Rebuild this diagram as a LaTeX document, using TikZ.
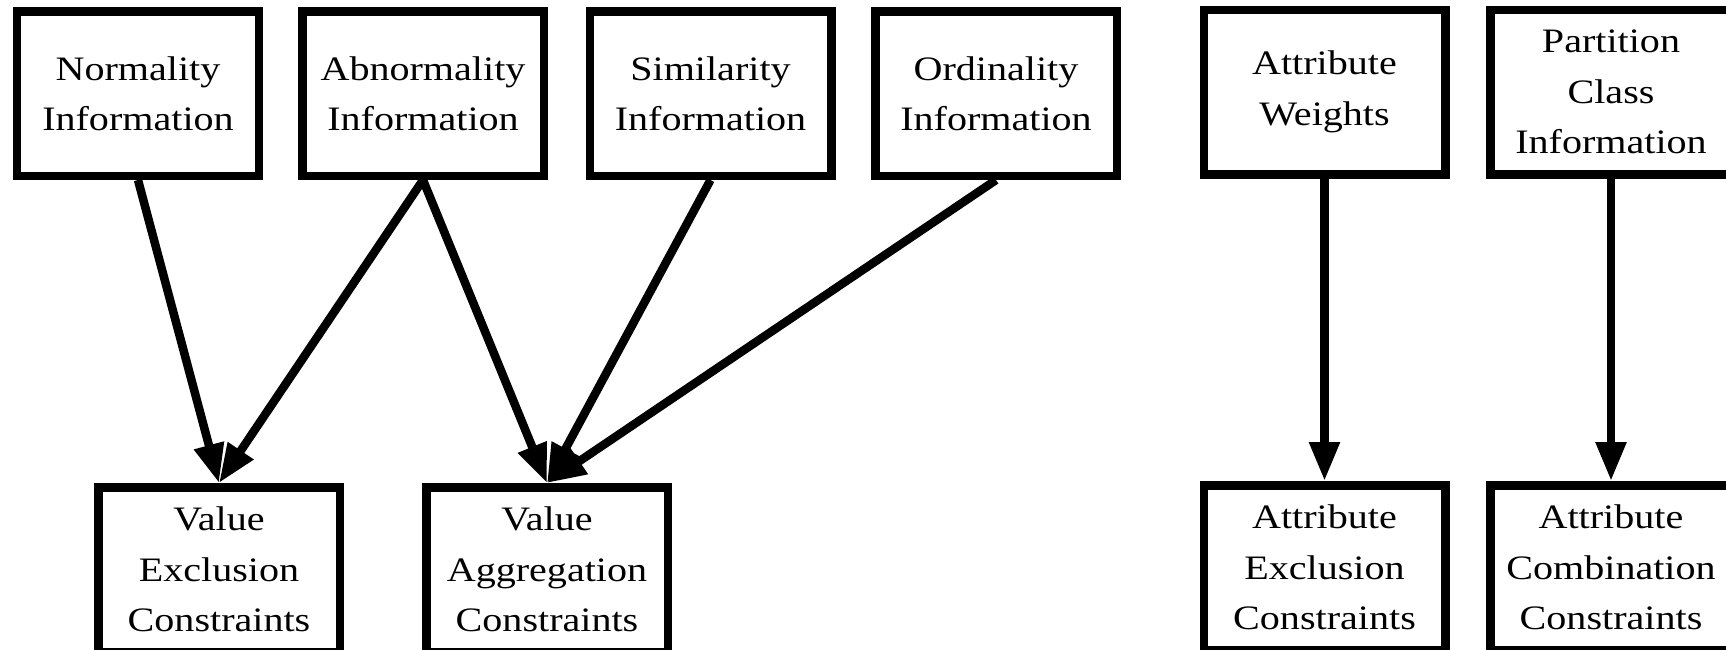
\documentclass[tikz,border=0pt]{standalone}
\usepackage{fontspec}
\setmainfont{Liberation Serif}[FakeStretch=1.17]
\usetikzlibrary{arrows.meta}

\begin{document}
\begin{tikzpicture}[
    caja/.style={draw, rectangle, line width=0.17cm, minimum width=4.83cm, minimum height=3.29cm,
        align=center, font=\fontsize{19.5}{28.7}\selectfont},
    flecha/.style={-{Triangle[length=0.78cm, width=0.58cm]}, line width=0.17cm}
]
    \useasboundingbox (0,0) rectangle (34.52,-12.98);

    % Nodos de informacion (arriba)
    \node[caja] (NI) at (2.76,-1.87) {Normality\\Information};
    \node[caja] (AI) at (8.46,-1.87) {Abnormality\\Information};
    \node[caja] (SI) at (14.21,-1.87) {Similarity\\Information};
    \node[caja] (OI) at (19.92,-1.87) {Ordinality\\Information};
    \node[caja] (AW) at (26.49,-1.84) {Attribute\\Weights};
    \node[caja] (PC) at (32.22,-1.84) {Partition\\Class\\Information};

    % Nodos de restricciones (abajo)
    \node[caja] (VE) at (4.38,-11.39) {Value\\Exclusion\\Constraints};
    \node[caja] (VA) at (10.94,-11.39) {Value\\Aggregation\\Constraints};
    \node[caja] (AE) at (26.49,-11.35) {Attribute\\Exclusion\\Constraints};
    \node[caja] (AC) at (32.22,-11.35) {Attribute\\Combination\\Constraints};

    % Arcos hacia las restricciones de valores
    \draw[flecha] (NI.south) -- (VE.north);
    \draw[flecha] (AI.south) -- (VE.north);
    \draw[flecha] (AI.south) -- (VA.north);
    \draw[flecha] (SI.south) -- (VA.north);
    \draw[flecha] (OI.south) -- (VA.north);

    % Arcos hacia las restricciones de atributos
    \draw[flecha] (AW.south) -- (AE.north);
    \draw[flecha] (PC.south) -- (AC.north);
\end{tikzpicture}
\end{document}
